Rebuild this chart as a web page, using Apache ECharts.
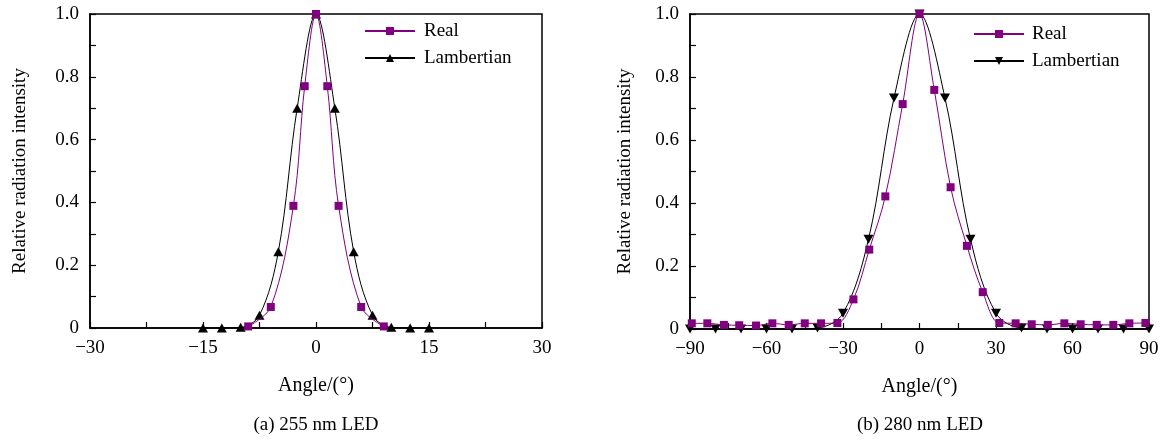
<!DOCTYPE html>
<html><head><meta charset="utf-8">
<script src="https://cdn.jsdelivr.net/npm/echarts@6/dist/echarts.min.js"></script>
<style>html,body{margin:0;padding:0;background:#fff}#c{width:1164px;height:441px}</style>
</head><body><div id="c"></div>
<script>
// ---- data (a) 255 nm LED ----
const leftRealX = [-9, -6, -3, -1.5, 0, 1.5, 3, 6, 9];
const leftRealY = [0.005, 0.067, 0.389, 0.77, 1.0, 0.77, 0.389, 0.067, 0.005];
const leftLambX = [-15, -12.5, -10, -7.5, -5, -2.5, 0, 2.5, 5, 7.5, 10, 12.5, 15];
const leftLambY = [0, 0, 0.002, 0.041, 0.243, 0.70, 1.0, 0.70, 0.243, 0.041, 0.002, 0, 0];
// ---- data (b) 280 nm LED ----
const rightRealX = [-89.3, -83.2, -76.7, -70.7, -64.1, -57.7, -51.3, -45.0, -38.6, -32.2, -25.9, -19.7, -13.4, -6.6, 0,
  5.8, 12.2, 18.6, 24.8, 31.3, 37.7, 44.0, 50.3, 56.8, 63.2, 69.5, 76.0, 82.3, 88.6];
const rightRealY = [0.018, 0.018, 0.013, 0.012, 0.011, 0.018, 0.013, 0.018, 0.018, 0.019, 0.094, 0.252, 0.421, 0.714, 1.0,
  0.759, 0.45, 0.264, 0.117, 0.019, 0.018, 0.015, 0.013, 0.018, 0.015, 0.013, 0.013, 0.018, 0.019];
const rightLambX = [-90, -80, -70, -60, -50, -40, -30, -20, -10, 0, 10, 20, 30, 40, 50, 60, 70, 80, 90];
const rightLambY = [0, 0, 0, 0, 0, 0.003, 0.05, 0.285, 0.733, 1.0, 0.733, 0.285, 0.05, 0.003, 0, 0, 0, 0, 0];
// ---- tick labels ----
const leftXLabels = [-30, -15, 0, 15, 30];
const rightXLabels = [-90, -60, -30, 0, 30, 60, 90];
const yLabels = [0, 0.2, 0.4, 0.6, 0.8, 1.0];
const captions = ['(a) 255 nm LED', '(b) 280 nm LED'];
const seriesNames = ['Real', 'Lambertian'];

const FONT = "'Liberation Serif', 'Times New Roman', serif";
const PURPLE = '#800080';
const fmtNum = v => (v < 0 ? '\u2212' + Math.abs(v) : String(v));
const pair = (xs, ys) => xs.map((x, i) => [x, ys[i]]);

function xAxis(idx, min, max, interval, labels, gridIndex) {
  return {
    type: 'value', gridIndex, min, max, interval,
    name: 'Angle/(°)', nameLocation: 'middle', nameGap: 48,
    nameTextStyle: { fontFamily: FONT, fontSize: 20, color: '#000' },
    axisLine: { show: true, onZero: false, lineStyle: { color: '#000', width: 1.5 } },
    axisTick: { show: true, inside: true, length: 6, lineStyle: { color: '#000', width: 1.2 } },
    axisLabel: {
      margin: 11, fontFamily: FONT, fontSize: 19, color: '#000',
      formatter: v => (labels.some(l => Math.abs(l - v) < 1e-6) ? fmtNum(v) : '')
    },
    splitLine: { show: false }
  };
}
function yAxis(gridIndex, gap) {
  return {
    type: 'value', gridIndex, min: 0, max: 1, interval: 0.1,
    name: 'Relative radiation intensity', nameLocation: 'middle', nameGap: gap,
    nameTextStyle: { fontFamily: FONT, fontSize: 19, color: '#000' },
    axisLine: { show: true, onZero: false, lineStyle: { color: '#000', width: 1.5 } },
    axisTick: { show: true, inside: true, length: 6, lineStyle: { color: '#000', width: 1.2 } },
    axisLabel: {
      margin: 11, fontFamily: FONT, fontSize: 19, color: '#000',
      formatter: v => {
        const hit = yLabels.find(l => Math.abs(l - v) < 1e-6);
        return hit === undefined ? '' : (hit === 0 ? '0' : hit.toFixed(1));
      }
    },
    splitLine: { show: false }
  };
}
const TRI_DOWN = 'path://M0,0L10,0L5,9Z';
const TRI_UP = 'path://M5,0L10,9L0,9Z';

const option = {
  animation: false,
  backgroundColor: '#fff',
  grid: [
    { left: 90, top: 14, width: 452, height: 314, show: true, borderColor: '#000', borderWidth: 1.5 },
    { left: 690, top: 14, width: 459, height: 315, show: true, borderColor: '#000', borderWidth: 1.5 }
  ],
  xAxis: [
    xAxis(0, -30, 30, 7.5, leftXLabels, 0),
    xAxis(1, -90, 90, 15, rightXLabels, 1)
  ],
  yAxis: [yAxis(0, 60), yAxis(1, 55)],
  legend: [
    {
      left: 364, top: 21, orient: 'vertical', itemWidth: 50, itemHeight: 10, itemGap: 7, padding: 0,
      data: ['Real', 'Lambertian'],
      formatter: n => n.trim(),
      textStyle: { fontFamily: FONT, fontSize: 19, color: '#000', lineHeight: 20, padding: [0, 0, 0, 4] }
    },
    {
      left: 973, top: 24, orient: 'vertical', itemWidth: 50, itemHeight: 10, itemGap: 7, padding: 0,
      data: ['Real ', 'Lambertian '],
      formatter: n => n.trim(),
      textStyle: { fontFamily: FONT, fontSize: 19, color: '#000', lineHeight: 20, padding: [0, 0, 0, 3] }
    }
  ],
  graphic: [
    { type: 'text', style: { text: captions[0], x: 316, y: 425, textAlign: 'center', textVerticalAlign: 'middle', font: "19px " + FONT, fill: '#000' } },
    { type: 'text', style: { text: captions[1], x: 920, y: 425, textAlign: 'center', textVerticalAlign: 'middle', font: "19px " + FONT, fill: '#000' } }
  ],
  series: [
    {
      name: seriesNames[1], type: 'line', xAxisIndex: 0, yAxisIndex: 0,
      data: pair(leftLambX, leftLambY), smooth: 0.35,
      symbol: TRI_UP, symbolSize: [10, 9], showAllSymbol: true,
      lineStyle: { color: '#000', width: 1 }, itemStyle: { color: '#000' }, z: 2
    },
    {
      name: seriesNames[0], type: 'line', xAxisIndex: 0, yAxisIndex: 0,
      data: pair(leftRealX, leftRealY), smooth: 0.35,
      symbol: 'rect', symbolSize: 8, showAllSymbol: true,
      lineStyle: { color: PURPLE, width: 1 }, itemStyle: { color: PURPLE }, z: 3
    },
    {
      name: seriesNames[1] + ' ', type: 'line', xAxisIndex: 1, yAxisIndex: 1,
      data: pair(rightLambX, rightLambY), smooth: 0.35,
      symbol: TRI_DOWN, symbolSize: [10, 9], showAllSymbol: true,
      lineStyle: { color: '#000', width: 1 }, itemStyle: { color: '#000' }, z: 2
    },
    {
      name: seriesNames[0] + ' ', type: 'line', xAxisIndex: 1, yAxisIndex: 1,
      data: pair(rightRealX, rightRealY), smooth: 0.35,
      symbol: 'rect', symbolSize: 8, showAllSymbol: true,
      lineStyle: { color: PURPLE, width: 1 }, itemStyle: { color: PURPLE }, z: 3
    }
  ]
};
const chart = echarts.init(document.getElementById('c'), null, { renderer: 'canvas' });
chart.setOption(option);
</script>
</body></html>
